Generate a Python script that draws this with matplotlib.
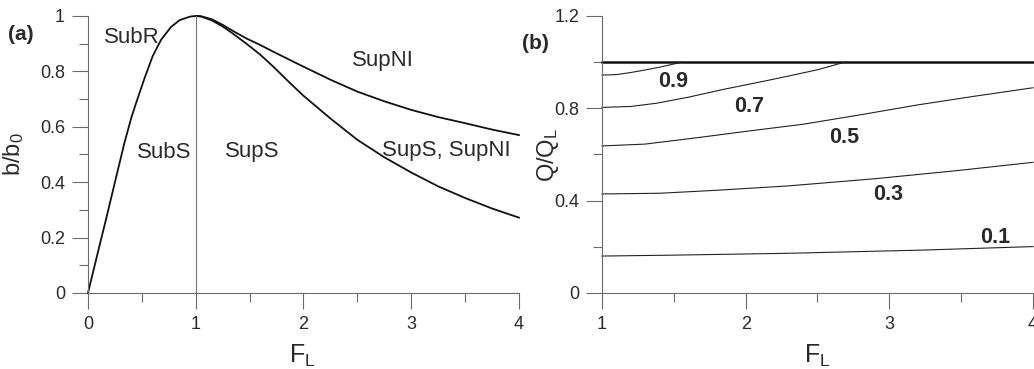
import matplotlib
matplotlib.use('Agg')
import matplotlib.pyplot as plt
from matplotlib.ticker import MultipleLocator, FixedLocator

plt.rcParams['font.family'] = ['Liberation Sans', 'DejaVu Sans']
plt.rcParams['mathtext.default'] = 'regular'

# panel (a): b/b0 against F_L
rise_F = [0, 0.1, 0.173, 0.25, 0.337, 0.40, 0.45, 0.52, 0.6, 0.68, 0.77, 0.85, 0.95, 1.0]
rise_b = [0, 0.16, 0.275, 0.40, 0.54, 0.63, 0.69, 0.77, 0.855, 0.915, 0.96, 0.985, 0.998, 1.0]

branch_F = [1.0, 1.05, 1.15, 1.25, 1.35, 1.47, 1.6, 1.72, 1.875, 2.0, 2.25, 2.5, 2.75,
            3.0, 3.25, 3.5, 3.75, 4.0]
upper_b = [1.0, 0.999, 0.988, 0.968, 0.945, 0.919, 0.895, 0.871, 0.841, 0.817, 0.77,
           0.727, 0.692, 0.661, 0.635, 0.613, 0.59, 0.570]
lower_b = [1.0, 0.998, 0.984, 0.962, 0.935, 0.90, 0.86, 0.817, 0.758, 0.712, 0.63,
           0.553, 0.49, 0.435, 0.385, 0.343, 0.305, 0.272]

region_names = ['SubR', 'SubS', 'SupS', 'SupNI', 'SupS, SupNI']
region_F = [0.405, 0.705, 1.525, 2.74, 3.33]
region_b = [0.922, 0.508, 0.51, 0.841, 0.513]

# panel (b): Q/QL against F_L, one curve per level
levels = ['0.9', '0.7', '0.5', '0.3', '0.1']
curve_F = {
    '0.9': [1.0, 1.1, 1.2, 1.3, 1.4, 1.5, 1.555],
    '0.7': [1.0, 1.2, 1.38, 1.6, 1.845, 2.1, 2.3, 2.5, 2.69],
    '0.5': [1.0, 1.3, 1.68, 2.0, 2.4, 2.8, 3.2, 3.6, 4.0],
    '0.3': [1.0, 1.4, 1.8, 2.3, 2.9, 3.47, 4.0],
    '0.1': [1.0, 1.5, 2.3, 3.24, 4.0],
}
curve_Q = {
    '0.9': [0.944, 0.946, 0.955, 0.966, 0.978, 0.992, 1.0],
    '0.7': [0.804, 0.808, 0.822, 0.848, 0.882, 0.914, 0.94, 0.967, 1.0],
    '0.5': [0.637, 0.645, 0.674, 0.70, 0.731, 0.772, 0.815, 0.853, 0.889],
    '0.3': [0.429, 0.432, 0.445, 0.464, 0.495, 0.530, 0.566],
    '0.1': [0.160, 0.164, 0.172, 0.186, 0.201],
}
label_F = [1.496, 2.025, 2.684, 2.99, 3.735]
label_Q = [0.918, 0.810, 0.674, 0.428, 0.241]

axis_col = '#6a6a6a'
text_col = '#2a2a2a'

fig = plt.figure(figsize=(10.34, 3.69), dpi=100)
ax1 = fig.add_axes([0.0851, 0.206, 0.4168, 0.7507])
ax2 = fig.add_axes([0.5822, 0.206, 0.4168, 0.7507])


def style_axes(ax):
    for side in ['top', 'right']:
        ax.spines[side].set_visible(False)
    for side in ['left', 'bottom']:
        ax.spines[side].set_color(axis_col)
        ax.spines[side].set_linewidth(0.8)
    ax.tick_params(which='major', direction='out', length=11.5, width=0.8,
                   color=axis_col, labelcolor=text_col, labelsize=13, pad=5)
    ax.tick_params(which='minor', direction='out', length=6.3, width=0.8,
                   color=axis_col)


# (a)
ax1.plot(rise_F, rise_b, color='#111111', lw=1.3, clip_on=False)
ax1.plot(branch_F, upper_b, color='#111111', lw=1.3, clip_on=False)
ax1.plot(branch_F, lower_b, color='#111111', lw=1.3, clip_on=False)
ax1.plot([1, 1], [0, 1], color='#777777', lw=0.8)
for name, f, b in zip(region_names, region_F, region_b):
    ax1.text(f, b, name, fontsize=16, color=text_col, ha='center', va='center')
ax1.set_xlim(0, 4)
ax1.set_ylim(0, 1)
ax1.xaxis.set_major_locator(MultipleLocator(1))
ax1.xaxis.set_minor_locator(MultipleLocator(0.5))
ax1.yaxis.set_major_locator(FixedLocator([0, 0.2, 0.4, 0.6, 0.8, 1.0]))
ax1.yaxis.set_minor_locator(MultipleLocator(0.1))
ax1.set_yticklabels(['0', '0.2', '0.4', '0.6', '0.8', '1'])
style_axes(ax1)
ax1.set_xlabel('F$_L$', fontsize=18, color=text_col)
ax1.set_ylabel('b/b$_0$', fontsize=17, color=text_col)
ax1.xaxis.set_label_coords(0.497, -0.18)
ax1.yaxis.set_label_coords(-0.145, 0.5)

# (b)
ax2.plot([1, 4], [1, 1], color='#111111', lw=1.8, clip_on=False)
for lev, f, q in zip(levels, label_F, label_Q):
    ax2.plot(curve_F[lev], curve_Q[lev], color='#222222', lw=0.8, clip_on=False)
    ax2.text(f, q, lev, fontsize=15.5, fontweight='bold', color=text_col,
             ha='center', va='center')
ax2.set_xlim(1, 4)
ax2.set_ylim(0, 1.2)
ax2.xaxis.set_major_locator(MultipleLocator(1))
ax2.xaxis.set_minor_locator(MultipleLocator(0.5))
ax2.yaxis.set_major_locator(FixedLocator([0, 0.4, 0.8, 1.2]))
ax2.yaxis.set_minor_locator(FixedLocator([0.2, 0.6, 1.0]))
ax2.set_yticklabels(['0', '0.4', '0.8', '1.2'])
style_axes(ax2)
ax2.set_xlabel('F$_L$', fontsize=18, color=text_col)
ax2.set_ylabel('Q/Q$_L$', fontsize=17, color=text_col)
ax2.xaxis.set_label_coords(0.5, -0.18)
ax2.yaxis.set_label_coords(-0.095, 0.5)

fig.text(0.02, 0.907, '(a)', fontsize=15, fontweight='bold', color=text_col,
         ha='center', va='center')
fig.text(0.518, 0.883, '(b)', fontsize=15, fontweight='bold', color=text_col,
         ha='center', va='center')

fig.savefig('out.png', dpi=100)
